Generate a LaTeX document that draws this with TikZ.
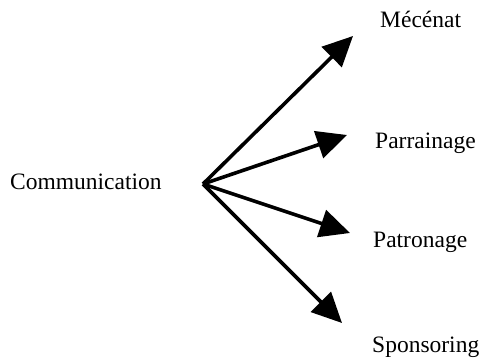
\documentclass[tikz,border=0pt]{standalone}
\usepackage{fontspec}
\setmainfont{Liberation Serif}
\usetikzlibrary{arrows.meta}

\tikzset{
  cmlabel/.style={anchor=base west, inner sep=0pt, font=\fontsize{23.5}{28}\selectfont},
  cmarrow/.style={line width=3.6pt, -{Triangle[length=30pt, width=28pt]}}
}

\begin{document}
\begin{tikzpicture}[x=1pt, y=-1pt]
\useasboundingbox (0,0) rectangle (481,358);

\node[cmlabel] (comm) at (10,189) {Communication};
\node[cmlabel] (mecenat) at (380,28) {Mécénat};
\node[cmlabel] (parrain) at (375,149) {Parrainage};
\node[cmlabel] (patron) at (373,247) {Patronage};
\node[cmlabel] (sponsor) at (372,352) {Sponsoring};

\coordinate (hub) at (203,184);
\coordinate (tmecenat) at (353,36);
\coordinate (tparrain) at (347,135);
\coordinate (tpatron) at (350,233);
\coordinate (tsponsor) at (342,323);

\draw[cmarrow] (hub) -- (tmecenat);
\draw[cmarrow] (hub) -- (tparrain);
\draw[cmarrow] (hub) -- (tpatron);
\draw[cmarrow] (hub) -- (tsponsor);
\end{tikzpicture}
\end{document}
